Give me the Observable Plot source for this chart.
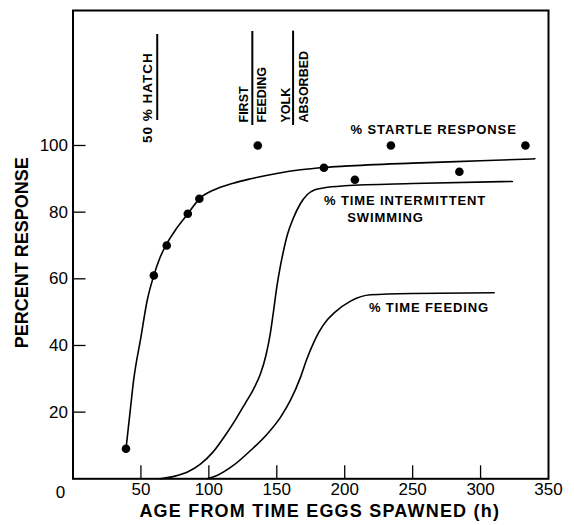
<!DOCTYPE html>
<html>
<head>
<meta charset="utf-8">
<script src="https://cdn.jsdelivr.net/npm/d3@7"></script>
<script src="https://cdn.jsdelivr.net/npm/@observablehq/plot@0.6"></script>
<style>
  body { margin: 0; background: white; }
</style>
</head>
<body>
<div id="chart"></div>
<script>
// ---- data ----
const xTickValues = [0, 50, 100, 150, 200, 250, 300, 350];
const yTickValues = [20, 40, 60, 80, 100];
const xTitle = "AGE FROM TIME EGGS SPAWNED (h)";
const yTitle = "PERCENT RESPONSE";

// observed % startle response
const startleX = [39, 59.5, 69, 84.5, 93, 136, 184.7, 207.5, 234, 284.4, 333];
const startleY = [9, 61, 70, 79.5, 84, 100, 93.3, 89.7, 100, 92.1, 100];

// fitted curves
const startleCurveX = [39, 42, 44.6, 50, 54.6, 59.5, 64, 69, 76, 84.5, 93, 105, 118, 130.7, 150, 167.5, 185, 200, 250, 300, 340];
const startleCurveY = [9, 20, 29.5, 42.5, 53.5, 61, 66.3, 70.5, 75, 79.5, 84, 86.9, 88.7, 90, 91.6, 92.7, 93.4, 93.8, 94.7, 95.4, 96];

const swimX = [64, 75, 85, 94, 103, 112, 120, 127, 133, 138, 142, 145, 147.5, 150, 152.5, 155, 158, 162, 167, 172.5, 178, 185, 200, 250, 323.4];
const swimY = [0, 0.8, 2.2, 4.5, 8, 13, 18, 22.8, 27, 31.5, 37, 43, 50, 57.5, 63.5, 68.5, 73.5, 78, 82.3, 85.3, 86.7, 87.3, 87.9, 88.6, 89.2];

const feedX = [98.8, 106, 118, 130.7, 142, 152.8, 160, 167.5, 172, 177.3, 181, 187.2, 192, 204.3, 219, 250, 310];
const feedY = [0, 1, 4, 8.5, 13, 18.5, 23.5, 30.5, 35.8, 41, 44, 47.7, 49.7, 53.3, 55.2, 55.6, 55.8];

// event markers (age in h) and their labels
const eventX = [62, 132, 162];
const eventTop = [133.3, 134.2, 134.3];
const eventBottom = [107.5, 106, 106];

const curveLabels = [
  {x: 204.3, y: 104.7, text: "% STARTLE RESPONSE"},
  {x: 184.7, y: 83.3, text: "% TIME INTERMITTENT"},
  {x: 201.9, y: 78.3, text: "SWIMMING"},
  {x: 217.8, y: 51.3, text: "% TIME FEEDING"}
];
const eventLabels = [
  {x: 54.6, y: 128, text: "50 % HATCH", anchor: "end"},
  {x: 125.6, y: 106.9, text: "FIRST", anchor: "start"},
  {x: 139.3, y: 106.9, text: "FEEDING", anchor: "start"},
  {x: 156.5, y: 106.9, text: "YOLK", anchor: "start"},
  {x: 170, y: 106.9, text: "ABSORBED", anchor: "start"}
];

// ---- build tables ----
const pts = startleX.map((x, i) => ({x, y: startleY[i]}));
const curves = [
  ...startleCurveX.map((x, i) => ({s: "startle", x, y: startleCurveY[i]})),
  ...swimX.map((x, i) => ({s: "swim", x, y: swimY[i]})),
  ...feedX.map((x, i) => ({s: "feed", x, y: feedY[i]}))
];
const events = eventX.map((x, i) => ({x, y1: eventBottom[i], y2: eventTop[i]}));

const W = 574, H = 525;
const mL = 72.5, mR = 26, mT = 10, mB = 46.7;
const fw = W - mL - mR, fh = H - mT - mB;
const tick = 13;
const font = "'Liberation Sans', Arial, sans-serif";

const chart = Plot.plot({
  width: W,
  height: H,
  marginLeft: mL,
  marginRight: mR,
  marginTop: mT,
  marginBottom: mB,
  style: {fontFamily: font, background: "white", color: "black"},
  x: {domain: [0, 350]},
  y: {domain: [0, 140.5]},
  marks: [
    // inward ticks
    Plot.ruleX(xTickValues.slice(1, -1), {x: d => d, stroke: "black", strokeWidth: 1.3, insetTop: fh - tick}),
    Plot.ruleY(yTickValues, {y: d => d, stroke: "black", strokeWidth: 1.3, insetRight: fw - tick}),
    // axis labels
    Plot.axisX(xTickValues.slice(1), {tickSize: 0, tickPadding: 4, fontSize: 17, label: null}),
    Plot.axisY(yTickValues, {tickSize: 0, tickPadding: 5, fontSize: 17, label: null}),
    Plot.text([xTickValues[0]], {x: d => d, y: 0, text: d => String(d), dx: -12.5, dy: 13.4, fontSize: 17, lineAnchor: "middle"}),
    // titles
    Plot.text([xTitle], {frameAnchor: "bottom", text: d => d, dx: 9, dy: 32, lineAnchor: "middle", textAnchor: "middle", fontSize: 18, fontWeight: "bold", className: "xt"}),
    Plot.text([yTitle], {frameAnchor: "left", text: d => d, rotate: -90, dx: -51, dy: 8, lineAnchor: "middle", textAnchor: "middle", fontSize: 18, fontWeight: "bold"}),
    // curves
    Plot.line(curves, {x: "x", y: "y", z: "s", curve: "monotone-x", stroke: "black", strokeWidth: 1.6}),
    // points
    Plot.dot(pts, {x: "x", y: "y", r: 4.3, fill: "black", stroke: "none"}),
    // event markers
    Plot.ruleX(events, {x: "x", y1: "y1", y2: "y2", stroke: "black", strokeWidth: 2}),
    Plot.text(eventLabels.filter(d => d.anchor === "end"), {x: "x", y: "y", text: "text", rotate: -90, textAnchor: "end", fontSize: 13.5, fontWeight: "bold", lineAnchor: "middle", className: "ev1"}),
    Plot.text(eventLabels.filter(d => d.anchor === "start"), {x: "x", y: "y", text: "text", rotate: -90, textAnchor: "start", fontSize: 12.5, fontWeight: "bold", lineAnchor: "middle"}),
    // curve labels
    Plot.text(curveLabels, {x: "x", y: "y", text: "text", textAnchor: "start", lineAnchor: "middle", fontSize: 13, fontWeight: "bold", className: "cl"}),
    // frame
    Plot.frame({stroke: "black", strokeWidth: 2})
  ]
});
chart.querySelectorAll("text").forEach(t => t.style.whiteSpace = "pre");
chart.querySelectorAll(".xt text").forEach(t => t.style.letterSpacing = "1.2px");
chart.querySelectorAll(".cl text").forEach(t => t.style.letterSpacing = "0.9px");
chart.querySelectorAll(".ev1 text").forEach(t => t.style.letterSpacing = "1px");
document.getElementById("chart").append(chart);
</script>
</body>
</html>
